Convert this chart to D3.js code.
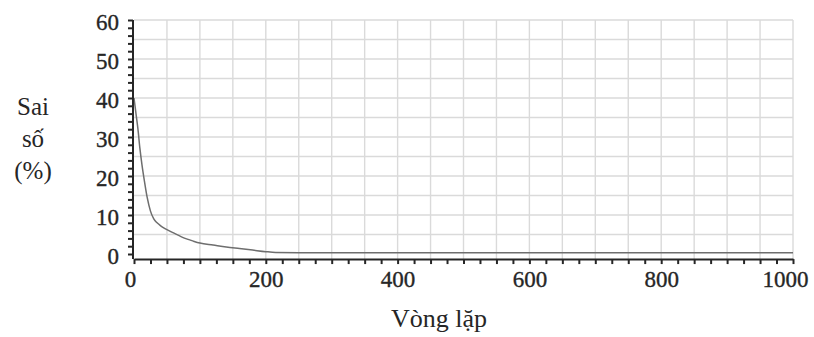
<!DOCTYPE html>
<html>
<head>
<meta charset="utf-8">
<script src="https://cdn.jsdelivr.net/npm/d3@7"></script>
<style>
  html, body { margin: 0; padding: 0; background: #fff; }
  svg { display: block; font-family: "Liberation Serif", "Times New Roman", serif; }
</style>
</head>
<body>
<svg id="chart" width="814" height="337"></svg>
<script>
// Training error per iteration
const iterations = [0, 3, 6, 9, 12, 16, 20, 25, 30, 35, 40, 47, 60, 72, 90, 100, 120, 140, 160, 180, 200, 215, 250, 300, 400, 500, 600, 700, 800, 900, 1000];
const errorPct   = [40, 36, 32, 27, 23, 18.5, 14.5, 11, 9, 8, 7.3, 6.5, 5.4, 4.4, 3.3, 2.8, 2.3, 1.8, 1.4, 1.0, 0.6, 0.4, 0.35, 0.3, 0.3, 0.3, 0.3, 0.3, 0.3, 0.3, 0.3];

const xTickLabels = [0, 200, 400, 600, 800, 1000];
const yTickLabels = [0, 10, 20, 30, 40, 50, 60];
const yTitleLines = ["Sai", "số", "(%)"];
const xTitle = "Vòng lặp";

const svg = d3.select("#chart");
const x = d3.scaleLinear().domain([0, 1000]).range([134, 793]);
const y = d3.scaleLinear().domain([0, 60]).range([254, 20]);
const axisY = y(-1.3);
const ink = "#262626";

// grid
const grid = svg.append("g").attr("stroke", "#dadada").attr("stroke-width", 1.4);
grid.selectAll(".gv").data(d3.range(50, 1001, 50)).join("line")
  .attr("x1", d => x(d)).attr("x2", d => x(d))
  .attr("y1", y(60)).attr("y2", axisY);
grid.selectAll(".gh").data(d3.range(5, 61, 5)).join("line")
  .attr("x1", x(0)).attr("x2", x(1000))
  .attr("y1", d => y(d)).attr("y2", d => y(d));

// error curve
svg.append("path")
  .datum(iterations.map((it, i) => [it, errorPct[i]]))
  .attr("fill", "none")
  .attr("stroke", "#6e6e6e")
  .attr("stroke-width", 1.5)
  .attr("d", d3.line().x(d => x(d[0])).y(d => y(d[1])).curve(d3.curveMonotoneX));

// x axis
const gx = svg.append("g").attr("transform", `translate(0,${axisY})`)
  .call(d3.axisBottom(x).tickValues(d3.range(0, 1001, 25)).tickSize(5).tickSizeOuter(0)
    .tickFormat(d => xTickLabels.includes(d) ? d : ""));
gx.select(".domain").attr("stroke", ink).attr("stroke-width", 2);
gx.selectAll(".tick line").attr("stroke", ink).attr("stroke-width", 2);
gx.selectAll(".tick text")
  .attr("fill", ink).attr("stroke", ink).attr("stroke-width", 0.35)
  .attr("font-size", 23).attr("font-family", "Liberation Serif")
  .attr("y", 12)
  .attr("dx", d => d === 0 ? -4 : d === 1000 ? -8 : 0);

// y axis
const gy = svg.append("g").attr("transform", `translate(133,0)`)
  .call(d3.axisLeft(y).tickValues(d3.range(0, 61, 2)).tickSize(5).tickSizeOuter(0)
    .tickFormat(d => yTickLabels.includes(d) ? d : ""));
gy.select(".domain").attr("stroke", ink).attr("stroke-width", 2)
  .attr("d", `M0,${y(60)}V${axisY}`);
gy.selectAll(".tick line").attr("stroke", ink).attr("stroke-width", 2);
gy.selectAll(".tick text")
  .attr("fill", ink).attr("stroke", ink).attr("stroke-width", 0.35)
  .attr("font-size", 23).attr("font-family", "Liberation Serif")
  .attr("x", -14).attr("dy", "0.4em");

// titles
svg.append("g").selectAll("text").data(yTitleLines).join("text")
  .attr("x", 33).attr("y", (d, i) => 115 + i * 32)
  .attr("text-anchor", "middle")
  .attr("font-size", 25).attr("fill", ink)
  .text(d => d);

svg.append("text")
  .attr("x", 439).attr("y", 327)
  .attr("text-anchor", "middle")
  .attr("font-size", 26).attr("fill", ink)
  .text(xTitle);
</script>
</body>
</html>
